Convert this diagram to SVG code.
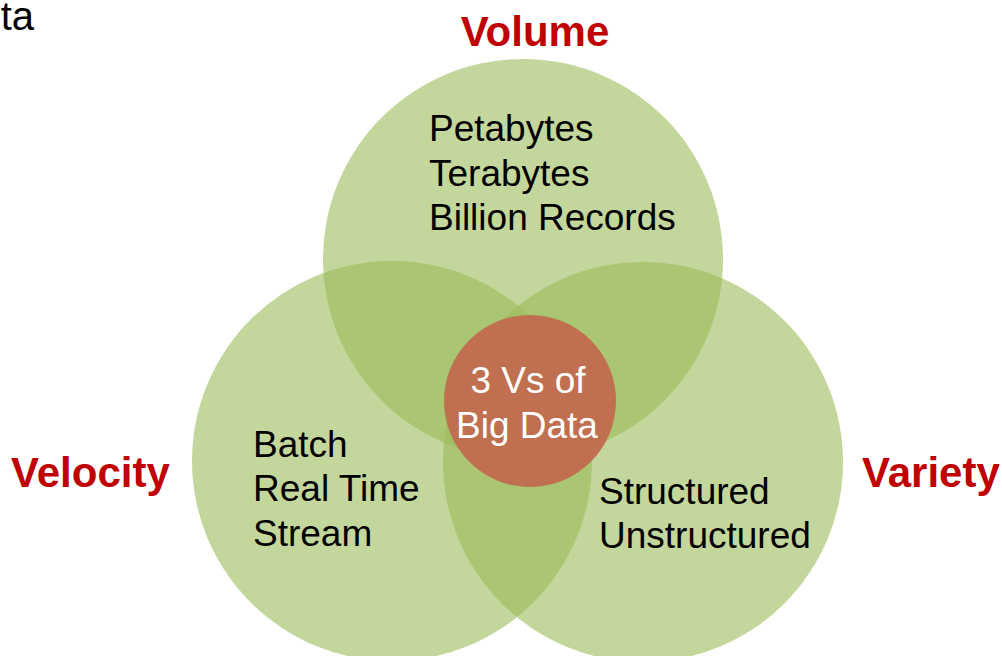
<svg xmlns="http://www.w3.org/2000/svg" width="1002" height="656" viewBox="0 0 1002 656">
<style>
.set{fill:#9bbb59;fill-opacity:0.6}
.core{fill:#c07050}
.title{font-family:"Liberation Sans",Arial,sans-serif;font-size:42px;font-weight:bold;fill:#c00000}
.body{font-family:"Liberation Sans",Arial,sans-serif;font-size:37px;fill:#000}
.ctext{font-family:"Liberation Sans",Arial,sans-serif;font-size:37px;fill:#fff;text-anchor:middle}
</style>
<rect width="1002" height="656" fill="#fff"/>
<text class="body" x="34" y="30" text-anchor="end" style="font-size:40px">ta</text>
<g id="volume">
<circle class="set" cx="523" cy="259" r="200"/>
<text class="title" x="535" y="46" text-anchor="middle">Volume</text>
<text class="body" x="429" y="141">Petabytes</text>
<text class="body" x="429" y="186">Terabytes</text>
<text class="body" x="429" y="230">Billion Records</text>
</g>
<g id="velocity">
<circle class="set" cx="392" cy="461" r="200"/>
<text class="title" x="11" y="487">Velocity</text>
<text class="body" x="253" y="457">Batch</text>
<text class="body" x="253" y="501">Real Time</text>
<text class="body" x="253" y="546">Stream</text>
</g>
<g id="variety">
<circle class="set" cx="643" cy="462" r="200"/>
<text class="title" x="862" y="487">Variety</text>
<text class="body" x="599" y="504">Structured</text>
<text class="body" x="599" y="548">Unstructured</text>
</g>
<g id="core">
<circle class="core" cx="530" cy="401" r="86"/>
<text class="ctext" x="528" y="393">3 Vs of</text>
<text class="ctext" x="527" y="438">Big Data</text>
</g>
<g id="connectors"/>
</svg>
